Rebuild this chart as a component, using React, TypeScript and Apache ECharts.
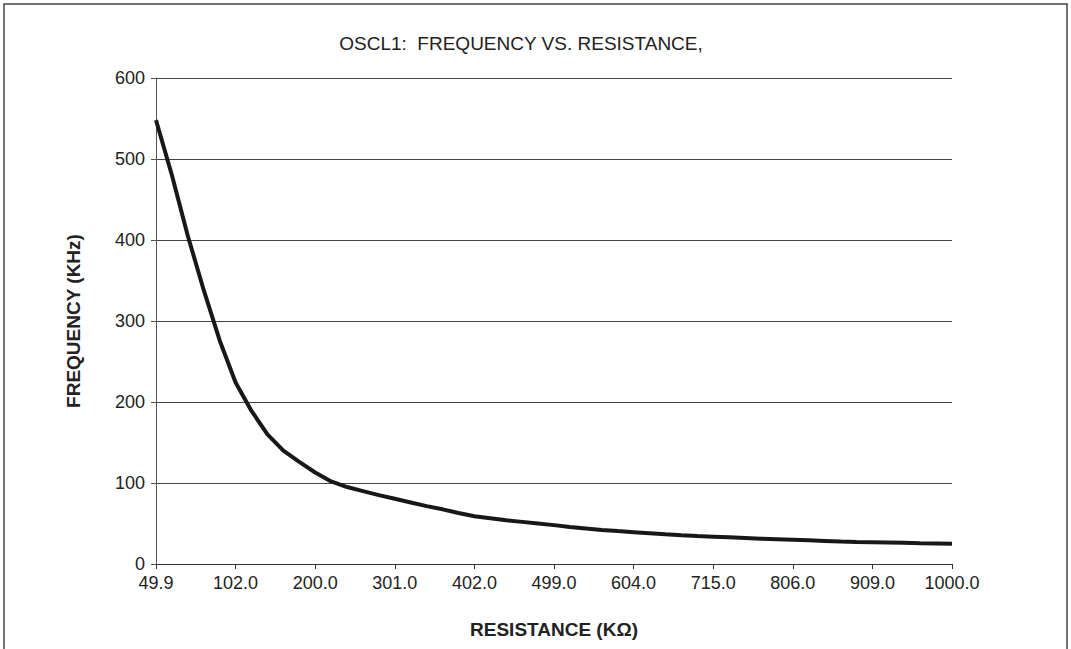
import React, { useEffect, useRef } from "react";
import * as echarts from "echarts";

// Resistance (kΩ) categories: 5 steps between each labelled tick
const resistance: number[] = [
  49.9, 60.4, 69.8, 80.6, 90.9,
  102.0, 121, 140, 162, 182,
  200.0, 221, 240, 261, 280,
  301.0, 324, 340, 365, 383,
  402.0, 422, 442, 464, 487,
  499.0, 523, 549, 562, 590,
  604.0, 634, 649, 681, 698,
  715.0, 732, 750, 768, 787,
  806.0, 825, 845, 866, 887,
  909.0, 931, 953, 976, 988,
  1000.0,
];

// Frequency (kHz)
const frequency: number[] = [
  548, 480, 405, 338, 276,
  224, 189, 160, 140, 126,
  113, 102, 95, 90, 85,
  80.5, 76, 71.5, 67.5, 63,
  59, 56.5, 54, 52, 50,
  48, 45.7, 43.9, 42, 40.6,
  39.3, 38, 36.7, 35.5, 34.5,
  33.7, 32.9, 32.1, 31.3, 30.6,
  29.9, 29.2, 28.5, 27.8, 27.3,
  26.9, 26.5, 26.1, 25.7, 25.4,
  25,
];

const yTicks = { min: 0, max: 600, interval: 100 };

const titleText = "OSCL1:  FREQUENCY VS. RESISTANCE,";
const xName = "RESISTANCE (K\u03A9)";
const yName = "FREQUENCY (KHz)";

const FONT = "'Liberation Sans', Arial, sans-serif";

export default function App() {
  const ref = useRef<HTMLDivElement>(null);
  useEffect(() => {
    if (!ref.current) return;
    const chart = echarts.init(ref.current, null, { renderer: "svg" });
    chart.setOption({
      animation: false,
      backgroundColor: "#ffffff",
      textStyle: { fontFamily: FONT },
      title: {
        text: titleText,
        left: 516,
        top: 29,
        textAlign: "center",
        textStyle: { fontFamily: FONT, fontSize: 19, fontWeight: "normal", color: "#222" },
      },
      graphic: [
        {
          type: "rect",
          shape: { x: 4, y: 4, width: 1063, height: 660 },
          style: { fill: "none", stroke: "#444", lineWidth: 1.5 },
          silent: true,
        },
      ],
      grid: { left: 156, right: 119, top: 78, bottom: 85, containLabel: false },
      xAxis: {
        type: "category",
        data: resistance.map((r) => r.toFixed(1)),
        boundaryGap: false,
        name: xName,
        nameLocation: "middle",
        nameGap: 56,
        nameTextStyle: { fontFamily: FONT, fontSize: 19, fontWeight: "bold", color: "#222" },
        axisLine: { lineStyle: { color: "#333", width: 1 } },
        axisTick: { show: true, interval: 4, length: 5, inside: false, lineStyle: { color: "#333" } },
        axisLabel: { interval: 4, margin: 10, fontFamily: FONT, fontSize: 18, color: "#222" },
        splitLine: { show: false },
      },
      yAxis: {
        type: "value",
        min: yTicks.min,
        max: yTicks.max,
        interval: yTicks.interval,
        name: yName,
        nameLocation: "middle",
        nameGap: 73,
        nameRotate: 90,
        nameTextStyle: { fontFamily: FONT, fontSize: 19, fontWeight: "bold", color: "#222" },
        axisLine: { show: true, lineStyle: { color: "#555", width: 1 } },
        axisTick: { show: true, length: 5, lineStyle: { color: "#555" } },
        axisLabel: { margin: 11, fontFamily: FONT, fontSize: 18, color: "#222" },
        splitLine: { show: true, lineStyle: { color: "#444", width: 1 } },
      },
      series: [
        {
          type: "line",
          data: frequency,
          showSymbol: false,
          symbol: "none",
          smooth: false,
          lineStyle: { color: "#1a1718", width: 4 },
        },
      ],
    });
    return () => chart.dispose();
  }, []);
  return (
    <div
      ref={ref}
      style={{ position: "fixed", left: 0, top: 0, width: 1071, height: 649 }}
    />
  );
}
